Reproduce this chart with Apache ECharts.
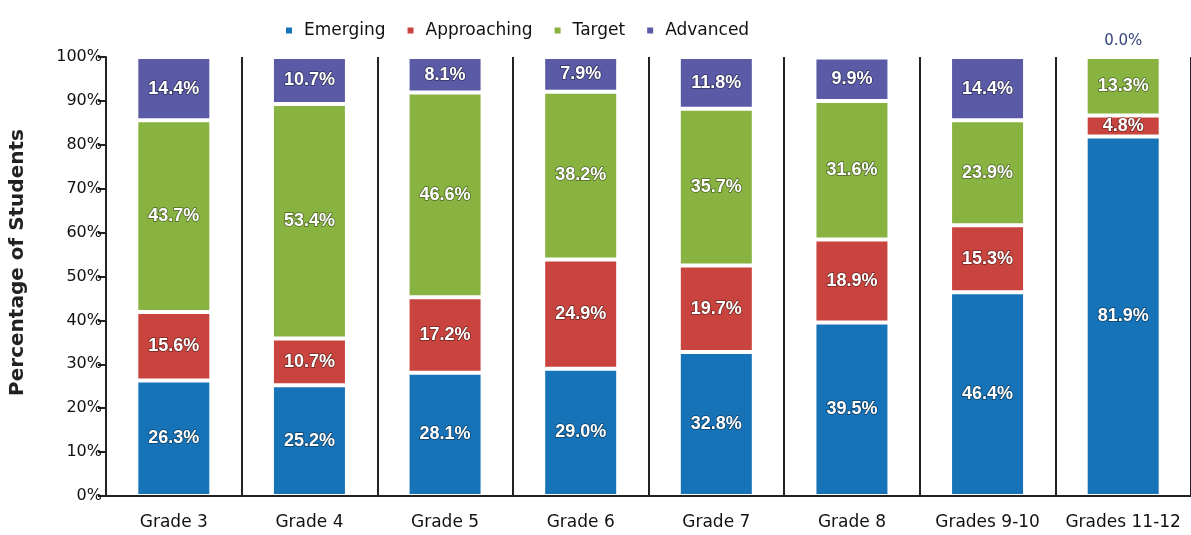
<!DOCTYPE html>
<html>
<head>
<meta charset="utf-8">
<script src="https://cdn.jsdelivr.net/npm/echarts@6/dist/echarts.min.js"></script>
<style>
  html, body { margin: 0; padding: 0; background: #fff; }
  #chart { width: 1191px; height: 535px; }
</style>
</head>
<body>
<div id="chart"></div>
<script>
// 数据 ------------------------------------------
const grades = ['Grade 3', 'Grade 4', 'Grade 5', 'Grade 6', 'Grade 7', 'Grade 8', 'Grades 9-10', 'Grades 11-12'];
const emerging    = [26.3, 25.2, 28.1, 29.0, 32.8, 39.5, 46.4, 81.9];
const approaching = [15.6, 10.7, 17.2, 24.9, 19.7, 18.9, 15.3, 4.8];
const target      = [43.7, 53.4, 46.6, 38.2, 35.7, 31.6, 23.9, 13.3];
const advanced    = [14.4, 10.7, 8.1, 7.9, 11.8, 9.9, 14.4, 0.0];

const colors = {
  Emerging: '#1673b8',
  Approaching: '#c9443e',
  Target: '#88b341',
  Advanced: '#5a5aa6'
};

const wideFont = 'DejaVu Sans, Verdana, sans-serif';

let labelStyle = {
  show: true,
  position: 'inside',
  color: '#fff',
  fontFamily: 'Arial, "Liberation Sans", sans-serif',
  fontWeight: 'bold',
  fontSize: 18,
  textBorderColor: 'rgba(0,0,0,0.45)',
  textBorderWidth: 1.5,
  formatter: p => p.value.toFixed(1) + '%'
};

let makeSeries = function (name, values) {
  return {
    name: name,
    type: 'bar',
    stack: 'total',
    barWidth: 75,
    data: values.map(v => {
      // 0 值标签放在柱子上方
      if (v === 0) {
        return {
          value: v,
          label: {
            position: 'top', color: '#34457a', textBorderWidth: 0,
            fontFamily: wideFont, fontWeight: 'normal', fontSize: 15, distance: 7
          }
        };
      }
      return v;
    }),
    itemStyle: {
      color: colors[name],
      borderColor: '#fff',
      borderWidth: 2
    },
    label: labelStyle
  };
};

let chart = echarts.init(document.getElementById('chart'));
let option = {
  animation: false,
  color: [colors.Emerging, colors.Approaching, colors.Target, colors.Advanced],
  legend: {
    left: 279,
    top: 17,
    itemWidth: 8,
    itemHeight: 8,
    itemGap: 20,
    icon: 'rect',
    textStyle: { fontFamily: wideFont, fontSize: 17, color: '#111', padding: [0, 0, 0, 6] },
    data: ['Emerging', 'Approaching', 'Target', 'Advanced']
  },
  grid: { left: 101, top: 57, width: 1091, bottom: 39 },
  xAxis: {
    type: 'category',
    data: grades,
    z: 5,
    axisLine: { lineStyle: { color: '#222', width: 2 } },
    axisTick: { show: false },
    axisLabel: { interval: 0, color: '#111', fontFamily: wideFont, fontSize: 17, margin: 18 },
    splitLine: { show: true, interval: 0, lineStyle: { color: '#222', width: 2 } }
  },
  yAxis: {
    type: 'value',
    min: 0,
    max: 100,
    interval: 10,
    name: 'Percentage of Students',
    nameLocation: 'middle',
    nameGap: 78,
    nameTextStyle: { fontFamily: wideFont, fontSize: 20, fontWeight: 'bold', color: '#222', padding: [0, 0, 0, 28] },
    axisLine: { show: true, lineStyle: { color: '#222', width: 2 } },
    axisTick: { show: true, length: 8, lineStyle: { color: '#222', width: 2 } },
    axisLabel: { color: '#111', fontFamily: wideFont, fontSize: 16, margin: 4, formatter: '{value}%' },
    splitLine: { show: false }
  },
  series: [
    makeSeries('Emerging', emerging),
    makeSeries('Approaching', approaching),
    makeSeries('Target', target),
    makeSeries('Advanced', advanced)
  ]
};
chart.setOption(option);
</script>
</body>
</html>
